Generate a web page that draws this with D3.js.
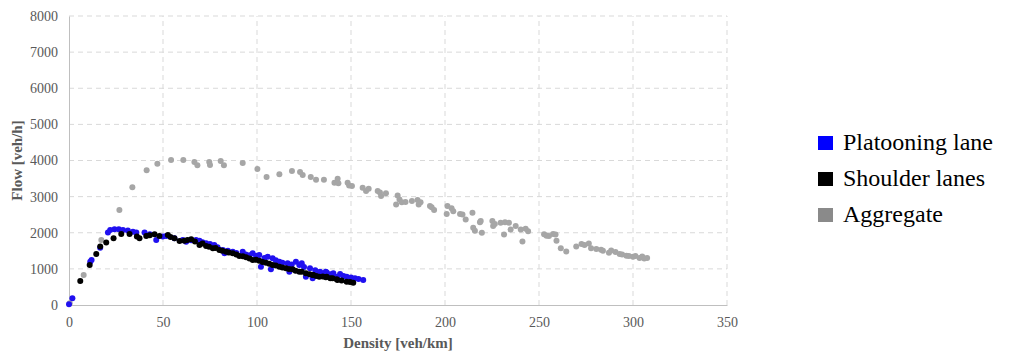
<!DOCTYPE html>
<html>
<head>
<meta charset="utf-8">
<script src="https://cdn.jsdelivr.net/npm/d3@7"></script>
<style>
  body { margin: 0; background: #fff; }
  svg, text { font-family: "Liberation Serif", "Times New Roman", serif; }
</style>
</head>
<body>
<svg id="chart" width="1016" height="354"></svg>
<script>
// density [veh/km], flow [veh/h]
var aggregate = [
  [0.4, 50], [7.8, 830], [17.2, 1800], [26.8, 2630], [33.7, 3258], [41.3, 3728], [47, 3912],
  [54.3, 4014], [60.8, 4014], [66.7, 3958], [68.3, 3866], [74.6, 3958], [75, 3875], [80.7, 3986],
  [82.4, 3866], [92.4, 3930], [100.2, 3765], [105.1, 3543], [111.9, 3617], [118.6, 3709],
  [122.9, 3682], [124.3, 3599], [128.6, 3543], [131.4, 3469], [135.6, 3469], [141.2, 3385],
  [142.9, 3496], [143.3, 3372], [148.2, 3385], [149, 3311], [150.5, 3293], [156.2, 3246],
  [158, 3154], [159.4, 3219], [164.2, 3154], [165.4, 3114], [166, 3016], [168.6, 3090],
  [174.8, 3034], [174, 2785], [175.8, 2923], [177, 2843], [179, 2850], [182.4, 2877],
  [185.4, 2905], [186, 2785], [187, 2843], [192, 2739], [192.9, 2705], [194.2, 2628],
  [200.9, 2520], [201.3, 2739], [203.5, 2680], [204.4, 2594], [208, 2520], [209.3, 2508],
  [211, 2369], [214.6, 2554], [215, 2138], [215.9, 2058], [218.6, 2289], [219.6, 2000],
  [219, 2323], [225.2, 2323], [225.6, 2185], [226.5, 2243], [229.6, 2277], [231.4, 1954],
  [231.9, 2289], [234, 2277], [234.9, 2092], [237.6, 2185], [240.3, 2092], [241.2, 1756],
  [242.9, 2111], [244.2, 2040], [252.7, 1960], [254, 1920], [255.3, 1908], [257.5, 1966],
  [259.3, 1781], [258.8, 1954], [261.6, 1572], [264.5, 1479], [269.8, 1618], [272.6, 1689],
  [274.2, 1664], [276.5, 1704], [277.7, 1572], [280.5, 1550], [283, 1526], [284, 1504],
  [287.2, 1446], [288.4, 1507], [290.7, 1464], [292.9, 1412], [294.2, 1400], [296.5, 1366],
  [297.8, 1354], [300, 1338], [301.3, 1354], [303.5, 1301], [304.9, 1340], [306, 1290],
  [307.5, 1300]
];

var platooning = [
  [0, 18], [1.8, 185], [11.3, 1200], [12, 1247], [16.6, 1588], [20.7, 2004], [21.9, 2078],
  [24.2, 2096], [26.5, 2096], [28.7, 2078], [31.3, 2059], [34, 2031], [35.8, 2004], [40.2, 2004],
  [43, 1960], [46.4, 1800], [49.9, 1893], [51.7, 1911], [56.1, 1847], [60.5, 1800], [62.3, 1754],
  [65, 1790], [67.6, 1800], [69.4, 1782], [71, 1740], [72.9, 1708], [75, 1690], [77.3, 1662],
  [79, 1600], [81.8, 1524], [82.7, 1431], [84.5, 1500], [87.1, 1477], [89, 1440], [92.4, 1477],
  [94, 1400], [96, 1380], [97.7, 1431], [99.5, 1360], [101.2, 1385], [102.1, 1062], [104, 1300],
  [105.7, 1339], [107.4, 988], [108.3, 1293], [110, 1240], [111.9, 1200], [113.5, 1170],
  [116.3, 1154], [117.2, 923], [118.5, 1120], [120.7, 1200], [122.5, 1108], [123.8, 1154],
  [125, 1050], [126, 785], [128.2, 1016], [129.6, 739], [131, 960], [133.1, 877], [133.5, 923],
  [135, 880], [136.6, 923], [137.1, 900], [139, 850], [140.6, 877], [142.8, 785], [144.2, 859],
  [146, 800], [147.7, 785], [150, 760], [152.1, 739], [154, 720], [156.5, 692]
];

var shoulder = [
  [6, 665], [11, 1108], [14.5, 1413], [16.6, 1616], [19.8, 1727], [23.7, 1847], [27.8, 1967],
  [32.2, 1967], [36.1, 1893], [37.5, 1847], [41.1, 1911], [43, 1930], [45.5, 1958], [48.1, 1911],
  [52.6, 1939], [54, 1880], [56.1, 1847], [58.8, 1773], [61.4, 1782], [63, 1800], [65, 1819],
  [67, 1760], [69.4, 1662], [71, 1700], [72.9, 1634], [74.5, 1610], [76.5, 1570], [78, 1580],
  [80, 1524], [81.5, 1500], [83.5, 1477], [85, 1450], [87.1, 1431], [89, 1400], [90.6, 1357],
  [92.5, 1350], [94.2, 1320], [96, 1290], [97.7, 1247], [99.5, 1250], [101.2, 1228], [103, 1190],
  [104.8, 1173], [106.5, 1140], [108.3, 1108], [110, 1090], [111.9, 1062], [113.5, 1040],
  [115.4, 1016], [117, 1000], [118.9, 988], [120.5, 950], [122.5, 923], [123.8, 923], [126, 877],
  [128, 850], [129.6, 831], [130, 831], [131.5, 800], [133.1, 785], [135, 790], [136.6, 766],
  [137.1, 785], [139, 740], [140.2, 739], [142.4, 711], [142.8, 692], [145, 680], [147.7, 646],
  [149.5, 640], [151.2, 619]
];

var xTicks = [0, 50, 100, 150, 200, 250, 300, 350];
var yTicks = [0, 1000, 2000, 3000, 4000, 5000, 6000, 7000, 8000];

var series = [
  { name: 'Platooning lane', data: platooning, color: '#2010f0', key: '#0000ff' },
  { name: 'Shoulder lanes', data: shoulder, color: '#000000', key: '#000000' },
  { name: 'Aggregate', data: aggregate, color: '#a6a6a6', key: '#8a8a8a' }
];

var serif = '"Liberation Serif", "Times New Roman", serif';
var svg = d3.select('#chart').attr('font-family', serif);
var x = d3.scaleLinear().domain([0, 350]).range([69, 727]);
var y = d3.scaleLinear().domain([0, 8000]).range([305, 16]);

// Grid
svg.append('g').selectAll('line')
  .data(yTicks.slice(1))
  .enter().append('line')
  .attr('x1', x(0)).attr('x2', x(350))
  .attr('y1', y).attr('y2', y)
  .attr('stroke', '#d9d9d9').attr('stroke-dasharray', '5,4');

svg.append('g').selectAll('line')
  .data(xTicks.slice(1))
  .enter().append('line')
  .attr('x1', x).attr('x2', x)
  .attr('y1', y(0)).attr('y2', y(8000))
  .attr('stroke', '#d9d9d9').attr('stroke-dasharray', '5,4');

// Axes
var xAxis = svg.append('g')
  .attr('transform', 'translate(0,' + y(0) + ')')
  .call(d3.axisBottom(x).tickValues(xTicks).tickFormat(d3.format('d')).tickSize(0).tickPadding(12));
var yAxis = svg.append('g')
  .attr('transform', 'translate(' + x(0) + ',0)')
  .call(d3.axisLeft(y).tickValues(yTicks).tickFormat(d3.format('d')).tickSize(0).tickPadding(11));

[xAxis, yAxis].forEach(function (g) {
  g.attr('font-family', serif).attr('font-size', 14);
  g.select('.domain').attr('stroke', '#bfbfbf');
  g.selectAll('text').attr('fill', '#595959');
});

// Points, aggregate below the lanes
[series[2], series[0], series[1]].forEach(function (s) {
  svg.append('g').selectAll('circle')
    .data(s.data)
    .enter().append('circle')
    .attr('cx', function (d) { return x(d[0]); })
    .attr('cy', function (d) { return y(d[1]); })
    .attr('r', 3)
    .attr('fill', s.color);
});

// Axis titles
svg.append('text')
  .attr('x', (x(0) + x(350)) / 2).attr('y', 348)
  .attr('text-anchor', 'middle')
  .attr('fill', '#595959')
  .attr('font-size', 15).attr('font-weight', 'bold')
  .text('Density [veh/km]');

svg.append('text')
  .attr('transform', 'translate(22,' + (y(0) + y(8000)) / 2 + ') rotate(-90)')
  .attr('text-anchor', 'middle')
  .attr('fill', '#595959')
  .attr('font-size', 15).attr('font-weight', 'bold')
  .text('Flow [veh/h]');

// Legend
var legend = svg.append('g').attr('transform', 'translate(818,136)');
var item = legend.selectAll('g')
  .data(series)
  .enter().append('g')
  .attr('transform', function (d, i) { return 'translate(0,' + i * 36 + ')'; });
item.append('rect')
  .attr('width', 15).attr('height', 14)
  .attr('fill', function (d) { return d.key; });
item.append('text')
  .attr('x', 25).attr('y', 14)
  .attr('fill', '#000')
  .attr('font-size', 24)
  .text(function (d) { return d.name; });
</script>
</body>
</html>
